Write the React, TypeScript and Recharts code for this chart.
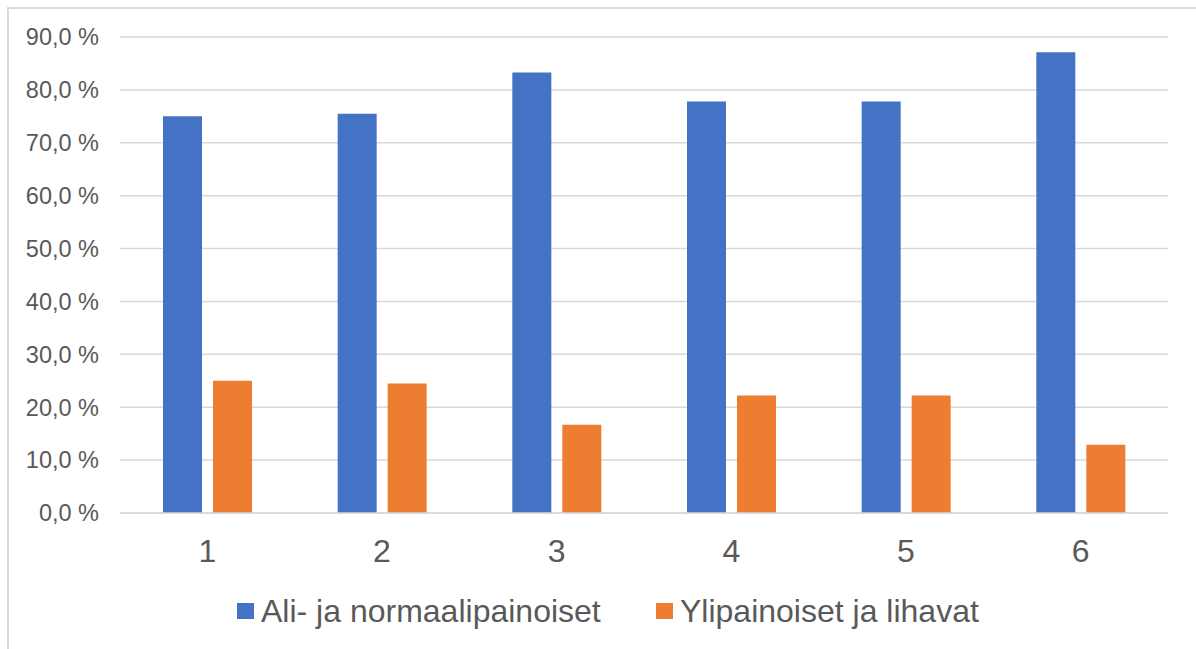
import { Bar, BarChart, CartesianGrid, Legend, XAxis, YAxis } from "recharts";

const GROUPS = ["1", "2", "3", "4", "5", "6"];
const NORMAL_WEIGHT = [75.0, 75.5, 83.3, 77.8, 77.8, 87.1];
const OVERWEIGHT = [25.0, 24.5, 16.7, 22.2, 22.2, 12.9];
const Y_TICKS = [0, 10, 20, 30, 40, 50, 60, 70, 80, 90];

const SERIES = [
  { key: "normal", label: "Ali- ja normaalipainoiset", color: "#4472C4" },
  { key: "over", label: "Ylipainoiset ja lihavat", color: "#ED7D31" },
];

const FONT = '"Liberation Sans", Arial, sans-serif';
const TEXT = "#595959";
const GRID = "#D9D9D9";

const data = GROUPS.map((g, i) => ({
  group: g,
  normal: NORMAL_WEIGHT[i],
  over: OVERWEIGHT[i],
}));

const formatPercent = (v: number) => `${v.toFixed(1).replace(".", ",")} %`;

function ChartLegend() {
  return (
    <div
      style={{
        height: 80,
        paddingTop: 4,
        boxSizing: "border-box",
        display: "flex",
        alignItems: "center",
        paddingLeft: 237,
        fontFamily: FONT,
      }}
    >
      {SERIES.map((s, i) => (
        <div
          key={s.key}
          style={{
            display: "flex",
            alignItems: "center",
            flexShrink: 0,
            width: i === 0 ? 419 : 340,
          }}
        >
          <span
            style={{
              display: "block",
              flexShrink: 0,
              width: 17,
              height: 16,
              background: s.color,
              marginRight: 7,
            }}
          />
          <span
            style={{
              display: "block",
              flexShrink: 0,
              fontSize: 32,
              lineHeight: "36px",
              color: TEXT,
              whiteSpace: "nowrap",
            }}
          >
            {s.label}
          </span>
        </div>
      ))}
    </div>
  );
}

export default function App() {
  return (
    <div
      style={{
        position: "absolute",
        left: 0,
        top: 0,
        width: 1196,
        height: 649,
        overflow: "hidden",
        background: "#fff",
      }}
    >
      <div
        style={{
          position: "absolute",
          left: 7,
          top: 7,
          width: 1300,
          height: 700,
          borderTop: `2px solid ${GRID}`,
          borderLeft: `2px solid ${GRID}`,
        }}
      />
      <BarChart
        width={1196}
        height={649}
        data={data}
        margin={{ top: 37, right: 28, left: 0, bottom: 0 }}
        barSize={39}
        barGap={11}
      >
        <CartesianGrid vertical={false} stroke={GRID} strokeWidth={1.5} />
        <XAxis
          dataKey="group"
          height={56}
          tickLine={false}
          tickSize={0}
          tickMargin={26}
          axisLine={{ stroke: GRID, strokeWidth: 1.5 }}
          tick={{ fill: TEXT, fontSize: 32, fontFamily: FONT }}
        />
        <YAxis
          width={120}
          domain={[0, 90]}
          ticks={Y_TICKS}
          tickFormatter={formatPercent}
          axisLine={false}
          tickLine={false}
          tickSize={0}
          tickMargin={21}
          tick={{ fill: TEXT, fontSize: 23.5, fontFamily: FONT }}
        />
        <Legend verticalAlign="bottom" content={() => <ChartLegend />} />
        {SERIES.map((s) => (
          <Bar
            key={s.key}
            dataKey={s.key}
            name={s.label}
            fill={s.color}
            isAnimationActive={false}
          />
        ))}
      </BarChart>
    </div>
  );
}
